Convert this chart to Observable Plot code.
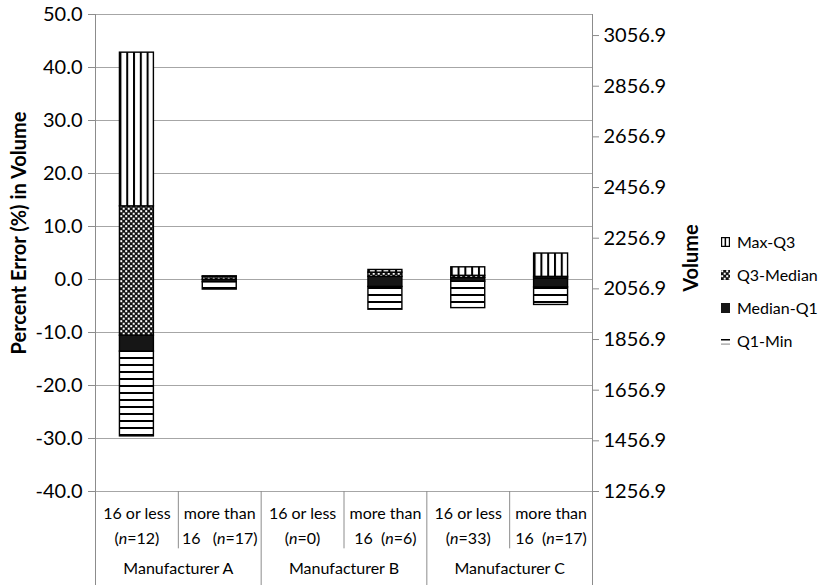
<!DOCTYPE html>
<html><head><meta charset="utf-8">
<script src="https://cdn.jsdelivr.net/npm/d3@7"></script>
<script src="https://cdn.jsdelivr.net/npm/@observablehq/plot@0.6"></script>
<style>
body{margin:0;background:#fff;}
#chart{position:relative;width:825px;height:585px;overflow:hidden;font-family:Lato,sans-serif;color:#000;background:#fff;}
#chart > svg{position:absolute;left:0;}
.ytitle{position:absolute;font-weight:bold;font-size:20px;white-space:nowrap;transform:translate(-50%,-50%) rotate(-90deg);}
.legend{position:absolute;left:721px;top:225px;font-size:16px;}
.legend .item{display:flex;align-items:center;height:33px;}
.legend .item svg{margin-right:7px;display:block;}
</style></head><body><div id="chart"></div>
<script>
// ---- data ----
const manufacturers = ["Manufacturer A", "Manufacturer B", "Manufacturer C"];
const catMaker = [0, 0, 1, 1, 2, 2];
const labelLine1 = ["16 or less", "more than", "16 or less", "more than", "16 or less", "more than"];
const labelLine2 = ["(n=12)", "16   (n=17)", "(n=0)", "16  (n=6)", "(n=33)", "16  (n=17)"];
const minVal = [-29.6, -1.9, null, -5.7, -5.4, -4.8];
const q1Val  = [-13.6, -0.5, null, -1.4, -0.4, -1.5];
const medVal = [-10.6, -0.05, null, 0.5, 0.3, 0.2];
const q3Val  = [13.8, 0.5, null, 1.3, 0.7, 0.5];
const maxVal = [42.8, 0.6, null, 1.8, 2.3, 4.9];
const pctTicks = [-40, -30, -20, -10, 0, 10, 20, 30, 40, 50];
const volTicks = [1256.9, 1456.9, 1656.9, 1856.9, 2056.9, 2256.9, 2456.9, 2656.9, 2856.9, 3056.9];
const volDomain = [1256.9, 3140];
const seriesNames = ["Max-Q3", "Q3-Median", "Median-Q1", "Q1-Min"];

const pctDomain = [-40, 50];
const toPct = v => pctDomain[0] + (v - volDomain[0]) / (volDomain[1] - volDomain[0]) * (pctDomain[1] - pctDomain[0]);
const fromPct = p => volDomain[0] + (p - pctDomain[0]) / (pctDomain[1] - pctDomain[0]) * (volDomain[1] - volDomain[0]);

const chart = document.getElementById("chart");

// patterns
chart.insertAdjacentHTML("beforeend", `
<svg width="0" height="0" style="position:absolute">
 <defs>
  <pattern id="vstripe" patternUnits="objectBoundingBox" patternContentUnits="userSpaceOnUse" x="0" y="0" width="0.2" height="1">
   <rect width="60" height="3000" fill="#fff"/><rect width="2" height="3000" fill="#000"/>
  </pattern>
  <pattern id="hstripe" patternUnits="userSpaceOnUse" x="0" y="0" width="10" height="7">
   <rect width="10" height="7" fill="#fff"/><rect width="10" height="2" fill="#000"/>
  </pattern>
  <pattern id="dots" patternUnits="userSpaceOnUse" x="0" y="0" width="5" height="5">
   <rect width="5" height="5" fill="#111"/>
   <rect x="0.2" y="0.2" width="2" height="2" fill="#fff"/>
   <rect x="2.7" y="2.7" width="2" height="2" fill="#fff"/>
  </pattern>
 </defs>
</svg>`);

const idx = d3.range(labelLine1.length);
const bw = 0.41;
const kinds = [
  {lo: minVal, hi: q1Val, fill: "url(#hstripe)"},
  {lo: q1Val, hi: medVal, fill: "#161616"},
  {lo: medVal, hi: q3Val, fill: "url(#dots)"},
  {lo: q3Val, hi: maxVal, fill: "url(#vstripe)"}
];
const segMarks = kinds.map(k => Plot.rect(idx.filter(i => k.lo[i] != null), {
  x1: i => i + 0.5 - bw / 2, x2: i => i + 0.5 + bw / 2,
  y1: i => k.lo[i], y2: i => k.hi[i],
  fill: k.fill, stroke: "#000", strokeWidth: 1.4
}));

const axisGray = "#8c8c8c";
const plot1 = Plot.plot({
  width: 825, height: 492,
  marginTop: 14, marginBottom: 1, marginLeft: 95, marginRight: 233,
  style: {fontFamily: "Lato, sans-serif", fontSize: "20px", background: "transparent", overflow: "visible", color: "#000"},
  x: {domain: [0, labelLine1.length], axis: null},
  y: {domain: pctDomain},
  marks: [
    Plot.gridY(pctTicks, {stroke: "#a6a6a6", strokeOpacity: 1}),
    ...segMarks,
    Plot.ruleX([0, labelLine1.length], {stroke: axisGray}),
    Plot.axisY(pctTicks, {anchor: "left", tickFormat: d => d.toFixed(1), tickSize: 7, tickPadding: 6, stroke: axisGray, fill: "#000", label: null}),
    Plot.axisY(volTicks.map(toPct), {anchor: "right", tickFormat: p => fromPct(p).toFixed(1), tickSize: 6, tickPadding: 5, stroke: axisGray, fill: "#000", label: null})
  ]
});
plot1.style.top = "0px";
chart.appendChild(plot1);

const seps = d3.range(1, labelLine1.length);
const shortSeps = seps.filter(k => catMaker[k] === catMaker[k - 1]);
const longSeps = seps.filter(k => catMaker[k] !== catMaker[k - 1]);
const plot2 = Plot.plot({
  width: 825, height: 94,
  marginTop: 0, marginBottom: 0, marginLeft: 95, marginRight: 233,
  style: {fontFamily: "Lato, sans-serif", fontSize: "16px", background: "transparent", overflow: "visible", color: "#000"},
  x: {domain: [0, labelLine1.length], axis: null},
  y: {domain: [0, 1], range: [0, 94], axis: null},
  marks: [
    Plot.ruleX([0, labelLine1.length], {y1: 0, y2: 1, stroke: axisGray}),
    Plot.ruleX(longSeps, {y1: 0, y2: 1, stroke: axisGray}),
    Plot.ruleX(shortSeps, {y1: 0, y2: 0.61, stroke: axisGray}),
    Plot.text(idx, {x: i => i + 0.5, y: 0.235, text: i => labelLine1[i], fill: "#000"}),
    Plot.text(idx, {x: i => i + 0.5, y: 0.5, text: i => labelLine2[i], fill: "#000"}),
    Plot.text(manufacturers, {x: (d, j) => 2 * j + 1, y: 0.82, text: d => d, fill: "#000"})
  ]
});
plot2.style.top = "491px";
chart.appendChild(plot2);
// italic n
plot2.querySelectorAll("text").forEach(t => {
  if (t.children.length === 0 && t.textContent.includes("n=")) {
    const s = t.textContent;
    const k = s.indexOf("n=");
    t.textContent = "";
    const ns = "http://www.w3.org/2000/svg";
    const a = document.createElementNS(ns, "tspan"); a.textContent = s.slice(0, k);
    const b = document.createElementNS(ns, "tspan"); b.textContent = "n"; b.setAttribute("font-style", "italic");
    const c = document.createElementNS(ns, "tspan"); c.textContent = s.slice(k + 1);
    t.append(a, b, c);
  }
});

// titles
const t1 = document.createElement("div");
t1.className = "ytitle"; t1.textContent = "Percent Error (%) in Volume";
t1.style.left = "18px"; t1.style.top = "233px";
chart.appendChild(t1);
const t2 = document.createElement("div");
t2.className = "ytitle"; t2.textContent = "Volume";
t2.style.left = "690px"; t2.style.top = "258px";
chart.appendChild(t2);

// legend
const swatches = {
  "Max-Q3": `<svg width="9" height="10"><rect x="0.6" y="0.6" width="7.8" height="8.8" fill="#fff" stroke="#000" stroke-width="1.2"/><rect x="3.6" y="0.6" width="1.5" height="8.8" fill="#000"/></svg>`,
  "Q3-Median": `<svg width="9" height="10"><rect x="0" y="0" width="9" height="10" fill="url(#dots)"/></svg>`,
  "Median-Q1": `<svg width="9" height="10"><rect x="0" y="0" width="9" height="10" fill="#161616"/></svg>`,
  "Q1-Min": `<svg width="9" height="10"><rect x="0" y="3" width="9" height="1.5" fill="#000"/><rect x="0" y="7.5" width="9" height="1.2" fill="#999"/></svg>`
};
const leg = document.createElement("div");
leg.className = "legend";
leg.innerHTML = seriesNames.map(n => `<div class="item">${swatches[n]}<span>${n}</span></div>`).join("");
chart.appendChild(leg);
</script></body></html>
